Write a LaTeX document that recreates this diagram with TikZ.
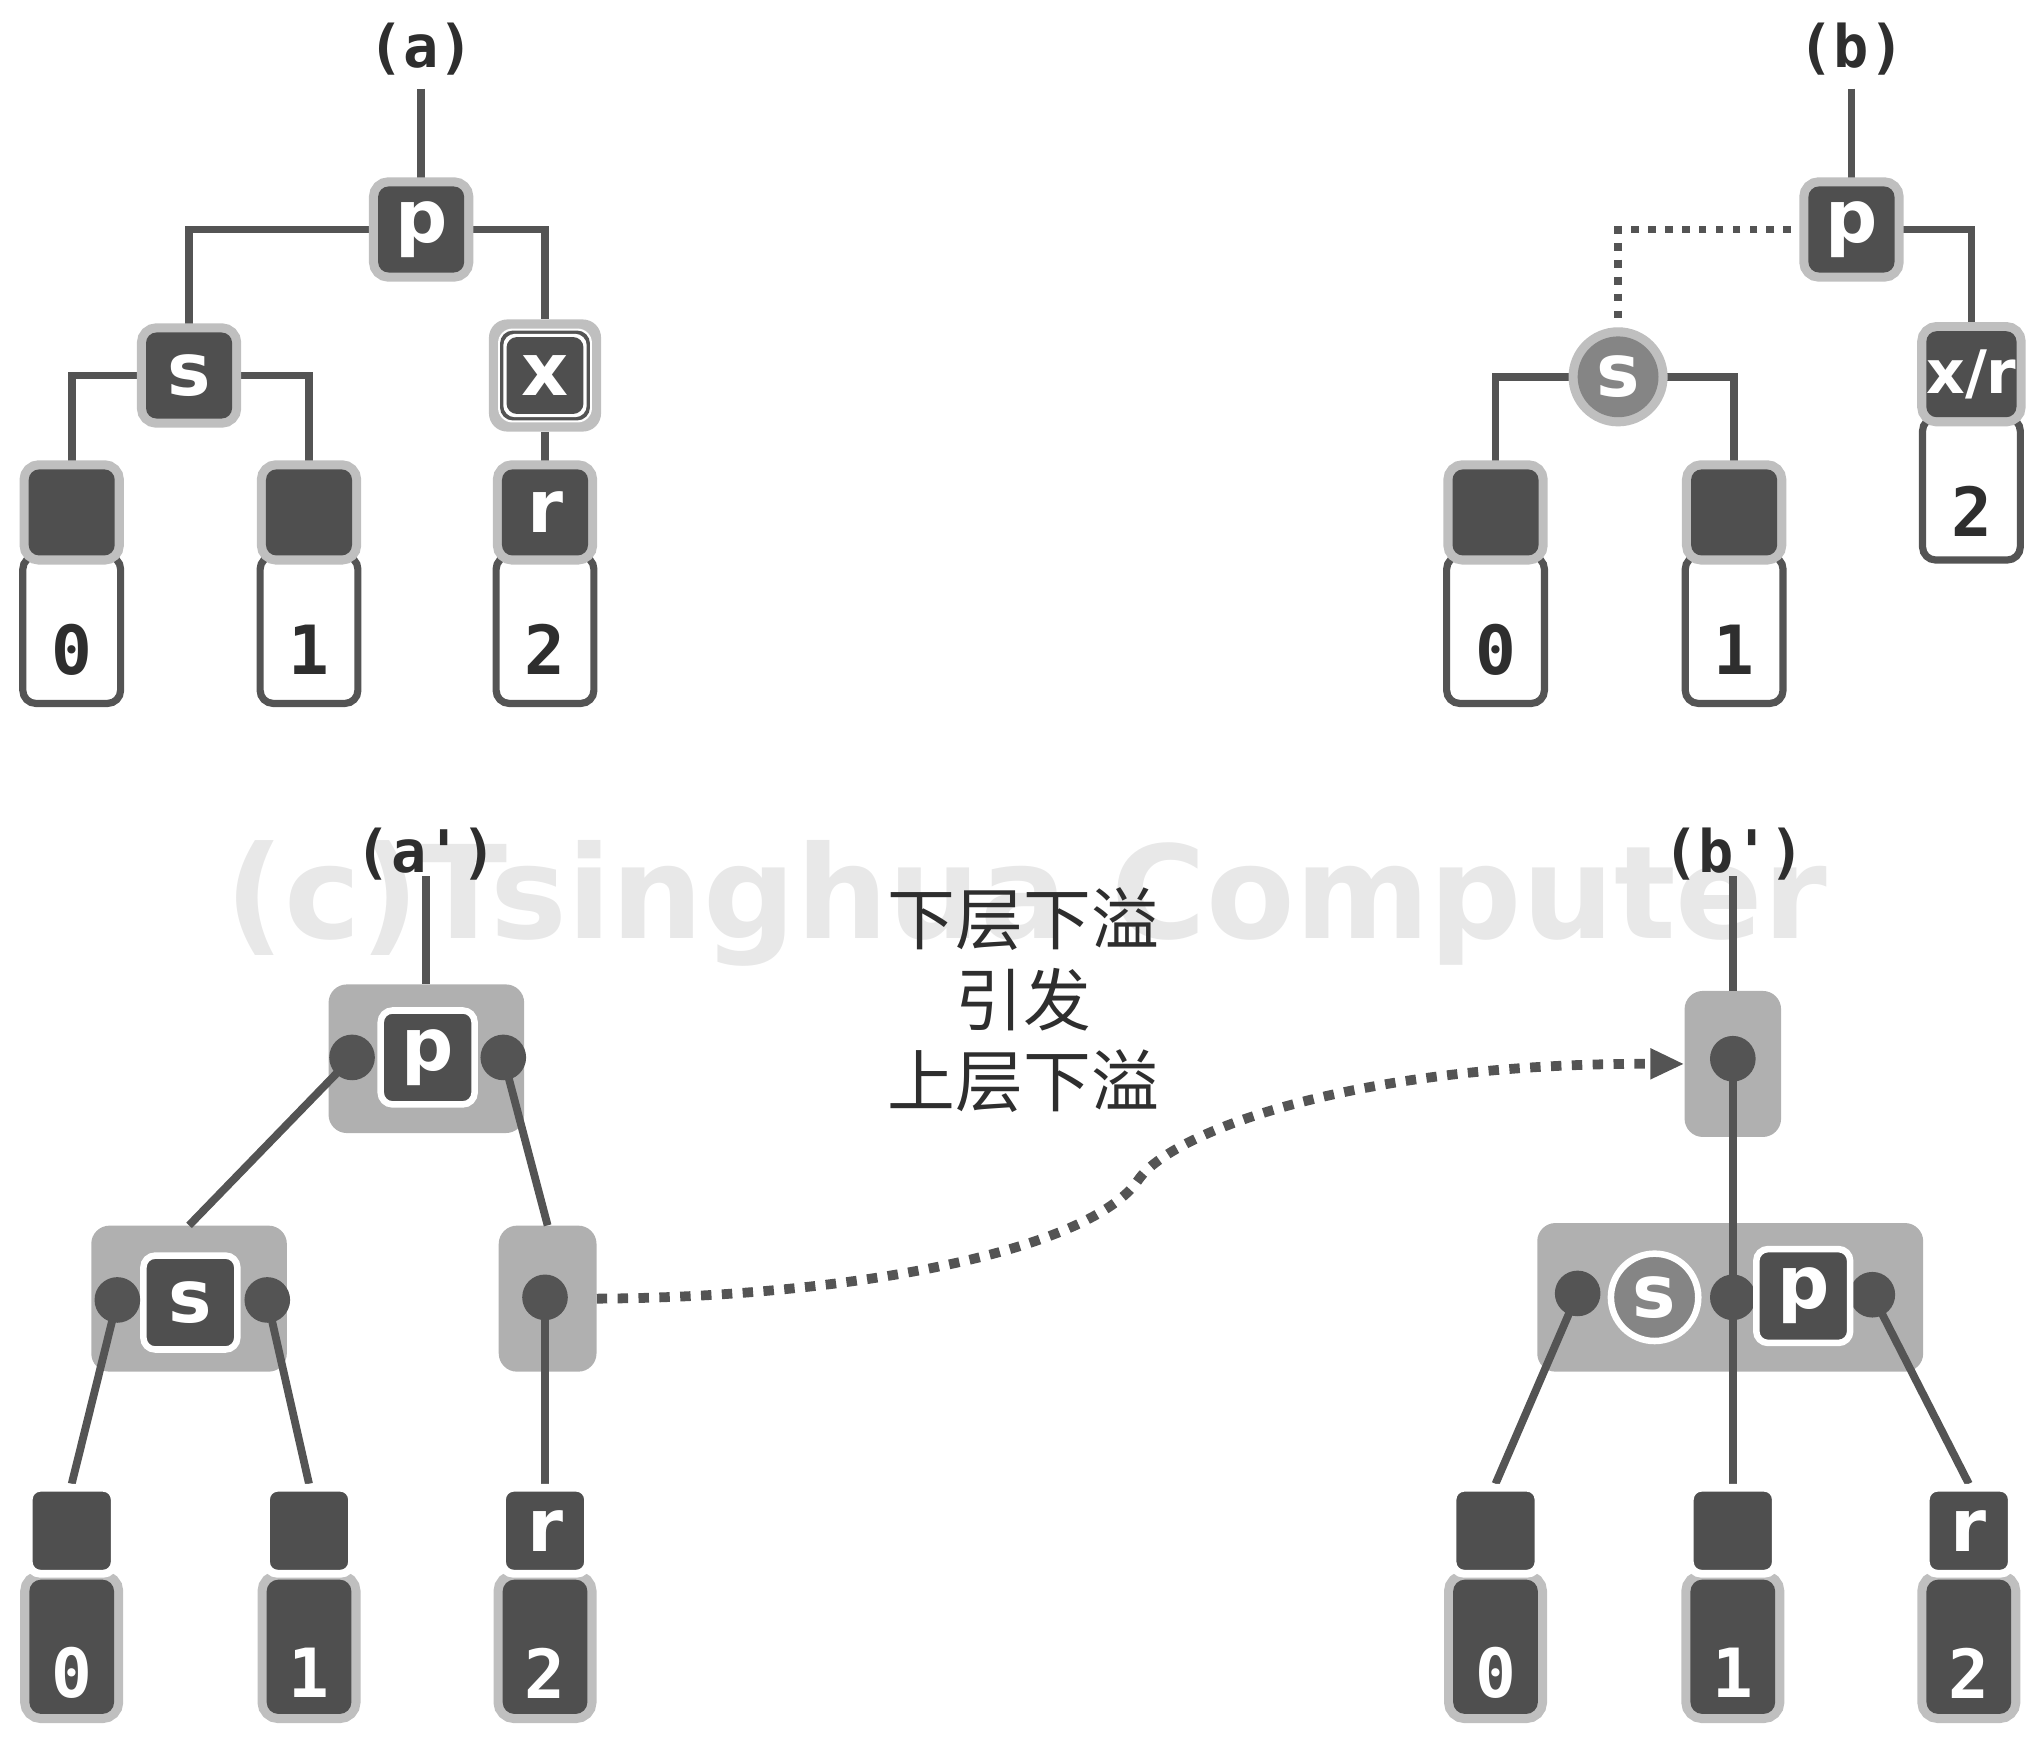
\documentclass[tikz,border=0pt]{standalone}
\usepackage{fontspec}
\setmainfont{DejaVu Sans}
\setmonofont{DejaVu Sans Mono}
\newfontfamily\lettf{DejaVu Sans}
\newfontfamily\cjkf{Noto Sans CJK SC}
\usetikzlibrary{arrows.meta}
\pgfdeclarelayer{bg}
\pgfdeclarelayer{fg}
\pgfsetlayers{bg,main,fg}
\definecolor{dkc}{gray}{0.31}
\definecolor{haloc}{gray}{0.75}
\definecolor{lnc}{gray}{0.33}
\definecolor{supc}{gray}{0.69}
\definecolor{midc}{gray}{0.52}
\definecolor{txtc}{gray}{0.18}
\definecolor{wmc}{gray}{0.91}
\tikzset{
  conn/.style={draw=lnc, line width=6pt},
  dotconn/.style={draw=lnc, line width=6pt, dash pattern=on 6pt off 7pt},
  arr/.style={draw=lnc, line width=7.5pt, dash pattern=on 8pt off 8pt, -{Triangle[length=26pt,width=22pt]}},
  letterfont/.style={font=\lettf\bfseries\fontsize{56}{56}\selectfont},
  darkbox/.style={rectangle, rounded corners=8pt, fill=dkc, minimum width=66pt, minimum height=66pt, inner sep=0pt, text=white, letterfont, preaction={draw=haloc, line width=14pt}},
  lowbox/.style={rectangle, rounded corners=10pt, draw=lnc, line width=5.5pt, fill=white, minimum width=75pt, minimum height=113pt, inner sep=0pt},
  dlowbox/.style={rectangle, rounded corners=9pt, fill=dkc, minimum width=65pt, minimum height=103pt, inner sep=0pt, preaction={draw=haloc, line width=14pt}},
  topsq/.style={rectangle, rounded corners=9pt, fill=dkc, draw=white, line width=6pt, minimum width=66pt, minimum height=66pt, inner sep=0pt, text=white, letterfont},
  supbox/.style={rectangle, rounded corners=14pt, fill=supc, inner sep=0pt},
  innerbox/.style={rectangle, rounded corners=9pt, fill=dkc, draw=white, line width=5pt, minimum width=72pt, minimum height=72pt, inner sep=0pt, text=white, letterfont},
  dotn/.style={circle, fill=lnc, minimum size=35pt, inner sep=0pt},
  digitD/.style={font=\ttfamily\bfseries\fontsize{52}{52}\selectfont, text=txtc, inner sep=0pt},
  digitW/.style={font=\ttfamily\bfseries\fontsize{52}{52}\selectfont, text=white, inner sep=0pt},
  lbl/.style={font=\ttfamily\bfseries\fontsize{45}{45}\selectfont, text=txtc, inner sep=0pt},
}
\begin{document}
\begin{tikzpicture}[x=1pt,y=-1pt]
\useasboundingbox (0,0) rectangle (1560,1336);
% watermark
\begin{pgfonlayer}{bg}
\node[anchor=base, text=wmc, font=\lettf\bfseries\fontsize{99}{99}\selectfont, inner sep=0pt] (wm) at (787,720) {(c)Tsinghua Computer};
\end{pgfonlayer}
% ---------------- (a)
\node[lbl] (la) at (323,38) {(a)};
\coordinate (ta) at (323,68);
\node[darkbox] (ap) at (323,176) {p};
\node[darkbox] (as) at (145,288) {s};
\node[rectangle, rounded corners=14pt, fill=haloc, minimum size=86pt, inner sep=0pt] (ax) at (418,288) {};
\node[rectangle, rounded corners=11pt, fill=white, minimum size=72pt, inner sep=0pt] (axw) at (ax) {};
\node[rectangle, rounded corners=10pt, fill=lnc, minimum size=69pt, inner sep=0pt] (axg) at (ax) {};
\node[rectangle, rounded corners=9pt, fill=white, minimum size=64pt, inner sep=0pt] (axw2) at (ax) {};
\node[rectangle, rounded corners=8pt, fill=dkc, minimum size=59pt, inner sep=0pt, text=white, letterfont] (axi) at (ax) {x};
\node[lowbox] (a0b) at (55,483) {};
\node[darkbox] (a0) at (55,393) {};
\node[digitD] (a0d) at (55,498) {0};
\node[lowbox] (a1b) at (237,483) {};
\node[darkbox] (a1) at (237,393) {};
\node[digitD] (a1d) at (237,498) {1};
\node[lowbox] (arb) at (418,483) {};
\node[darkbox] (ar) at (418,393) {r};
\node[digitD] (ard) at (418,498) {2};
\begin{pgfonlayer}{bg}
\draw[conn] (ta) -- (ap.north);
\draw[conn] (ap.west) -| (as.north);
\draw[conn] (ap.east) -| (ax.north);
\draw[conn] (as.west) -| (a0.north);
\draw[conn] (as.east) -| (a1.north);
\draw[conn] (ax.south) -- (ar.north);
\end{pgfonlayer}
% ---------------- (b)
\node[lbl] (lb) at (1420,38) {(b)};
\coordinate (tb) at (1420,68);
\node[darkbox] (bp) at (1420,176) {p};
\node[circle, fill=midc, minimum size=62pt, inner sep=0pt, text=white, letterfont, preaction={draw=haloc, line width=14pt}] (bs) at (1241,289) {s};
\node[lowbox, minimum height=109pt] (bxrb) at (1512,375) {};
\node[darkbox, font=\lettf\bfseries\fontsize{46}{46}\selectfont] (bxr) at (1512,287) {x/r};
\node[digitD] (bxrd) at (1512,392) {2};
\node[lowbox] (b0b) at (1147,483) {};
\node[darkbox] (b0) at (1147,393) {};
\node[digitD] (b0d) at (1147,498) {0};
\node[lowbox] (b1b) at (1330,483) {};
\node[darkbox] (b1) at (1330,393) {};
\node[digitD] (b1d) at (1330,498) {1};
\begin{pgfonlayer}{bg}
\draw[conn] (tb) -- (bp.north);
\draw[dotconn] (bp.west) -| (bs.north);
\draw[conn] (bp.east) -| (bxr.north);
\draw[conn] (bs.west) -| (b0.north);
\draw[conn] (bs.east) -| (b1.north);
\end{pgfonlayer}
% ---------------- (a')
\node[lbl] (lA) at (327,655) {(a')};
\coordinate (tA) at (327,672);
\node[supbox, minimum width=150pt, minimum height=114pt] (Ap) at (327,812) {};
\node[supbox, minimum width=150pt, minimum height=112pt] (As) at (145,996) {};
\node[supbox, minimum width=75pt, minimum height=112pt] (Ar) at (420,996) {};
\begin{pgfonlayer}{fg}
\node[innerbox] (Api) at (328,811) {p};
\node[dotn] (Apl) at (270,811) {};
\node[dotn] (Apr) at (386,811) {};
\node[innerbox] (Asi) at (146,999) {s};
\node[dotn] (Asl) at (90,997) {};
\node[dotn] (Asr) at (205,997) {};
\node[dotn] (Arc) at (418,995) {};
\node[dlowbox] (A0b) at (55,1263) {};
\node[topsq] (A0) at (55,1174) {};
\node[digitW] (A0d) at (55,1283) {0};
\node[dlowbox] (A1b) at (237,1263) {};
\node[topsq] (A1) at (237,1174) {};
\node[digitW] (A1d) at (237,1283) {1};
\node[dlowbox] (ARb) at (418,1263) {};
\node[topsq] (AR) at (418,1174) {r};
\node[digitW] (ARd) at (418,1283) {2};
\end{pgfonlayer}
\draw[conn] (tA) -- (Ap.north);
\draw[conn] (Apl.center) -- (As.north);
\draw[conn] (Apr.center) -- (Ar.north);
\draw[conn] (Asl.center) -- (A0.north);
\draw[conn] (Asr.center) -- (A1.north);
\draw[conn] (Arc.center) -- (AR.north);
% ---------------- (b')
\node[lbl] (lB) at (1330,655) {(b')};
\coordinate (tB) at (1329,672);
\node[supbox, minimum width=74pt, minimum height=112pt] (Bt) at (1329,816) {};
\node[supbox, minimum width=296pt, minimum height=114pt] (Bb) at (1327,995) {};
\begin{pgfonlayer}{fg}
\node[dotn] (Btd) at (1329,812) {};
\node[dotn] (Bbl) at (1210,992) {};
\node[dotn] (Bbm) at (1329,995) {};
\node[dotn] (Bbr) at (1436,993) {};
\node[circle, fill=midc, draw=white, line width=5pt, minimum size=67pt, inner sep=0pt, text=white, letterfont] (Bbs) at (1269,995) {s};
\node[innerbox] (Bbp) at (1383,994) {p};
\node[dlowbox] (B0b) at (1147,1263) {};
\node[topsq] (B0) at (1147,1174) {};
\node[digitW] (B0d) at (1147,1283) {0};
\node[dlowbox] (B1b) at (1329,1263) {};
\node[topsq] (B1) at (1329,1174) {};
\node[digitW] (B1d) at (1329,1283) {1};
\node[dlowbox] (B2b) at (1510,1263) {};
\node[topsq] (B2) at (1510,1174) {r};
\node[digitW] (B2d) at (1510,1283) {2};
\end{pgfonlayer}
\draw[conn] (tB) -- (Bt.north);
\draw[conn] (Btd.center) -- (Bbm.center) -- (B1.north);
\draw[conn] (Bbl.center) -- (B0.north);
\draw[conn] (Bbr.center) -- (B2.north);
% ---------------- middle text and arrow
\node[align=center, text=txtc, font=\cjkf\fontsize{52}{62}\selectfont, inner sep=0pt] (cap) at (785,767) {下层下溢\\引发\\上层下溢};
\draw[arr] (Ar.east) .. controls (650,995) and (835,960) .. (873,905) .. controls (898,868) and (1040,815) .. (Bt.west);
\end{tikzpicture}
\end{document}
